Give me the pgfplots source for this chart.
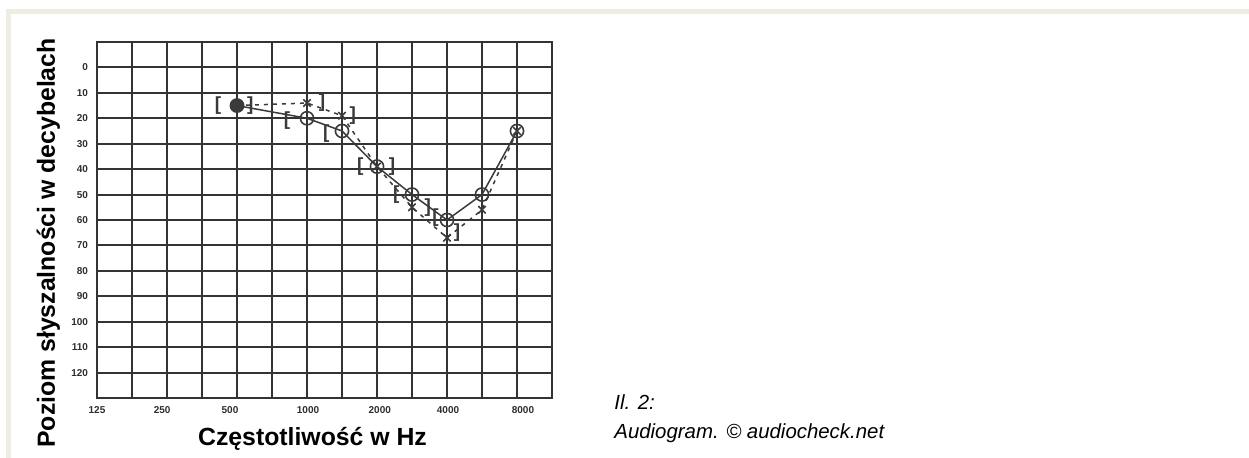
\documentclass[border=0pt]{standalone}
\usepackage{fontspec}
\setmainfont{Liberation Sans}
\usepackage{pgfplots}
\pgfplotsset{compat=1.18}
\definecolor{beige}{HTML}{EFEDE2}
\definecolor{gridc}{HTML}{333333}
\definecolor{ink}{HTML}{3A3A3A}
\definecolor{tickc}{HTML}{2E2E2E}
\begin{document}
\begin{tikzpicture}[x=0.5pt,y=0.5pt]
\path[use as bounding box] (0,0) rectangle (1249,458);
\fill[beige] (6,444) rectangle (1249,449);
\fill[beige] (6,0) rectangle (11,449);
\begin{axis}[
  at={(48.5pt,30pt)}, anchor=south west, scale only axis,
  width=227.5pt, height=178pt,
  xmin=0, xmax=13, ymin=-10, ymax=130, y dir=reverse,
  xtick={0,1.86,3.8,6.03,8.08,10.03,12.17},
  xticklabels={125,250,500,1000,2000,4000,8000},
  ytick={0,10,...,120},
  minor xtick={1,...,12},
  xminorgrids=true, ymajorgrids=true, xmajorgrids=false,
  tick style={draw=none},
  grid style={gridc, line width=1pt},
  minor grid style={gridc, line width=1pt},
  axis line style={gridc, line width=1pt},
  /pgf/number format/assume math mode=true,
  ticklabel style={font=\fontsize{5pt}{5.5pt}\selectfont\bfseries, text=tickc},
  yticklabel style={xshift=-1pt},
  xticklabel style={yshift=-0.5pt},
  clip=false,
]
\addplot[ink, line width=0.75pt, mark=o, mark size=3.3pt, mark options={solid, line width=0.8pt}]
  coordinates {(4,15) (6,20) (7,25) (8,39) (9,50) (10,60) (11,50) (12,25)};
\addplot[ink, line width=0.75pt, dash pattern=on 2pt off 2.5pt, mark=x, mark size=2.6pt, mark options={solid, line width=0.8pt}]
  coordinates {(4,15) (6,14) (7,19) (8,39) (9,55) (10,67) (11,56) (12,25)};
\addplot[only marks, mark=*, mark size=3pt, mark options={fill=ink, draw=ink}]
  coordinates {(4,15)};
\addplot[only marks, mark=text, text mark={[}, text mark as node=true, text mark style={font=\fontsize{9.5pt}{9.5pt}\selectfont\bfseries, text=ink, inner sep=0pt}]
  coordinates {(3.46,15) (5.43,21) (6.55,26) (7.52,39) (8.55,50) (9.67,59)};
\addplot[only marks, mark=text, text mark={]}, text mark as node=true, text mark style={font=\fontsize{9.5pt}{9.5pt}\selectfont\bfseries, text=ink, inner sep=0pt}]
  coordinates {(4.38,15) (6.43,14) (7.31,19) (8.43,39) (9.45,55) (10.29,65)};
\end{axis}
\node[rotate=90, anchor=base, font=\fontsize{12.4pt}{14pt}\selectfont\bfseries] at (55,215) {Poziom słyszalności w decybelach};
\node[anchor=base, font=\fontsize{12.4pt}{14pt}\selectfont\bfseries] at (312.5,12) {Częstotliwość w Hz};
\node[anchor=base west, inner sep=0pt, font=\fontsize{10.2pt}{12pt}\selectfont\itshape] at (614,48) {Il. 2:};
\node[anchor=base west, inner sep=0pt, font=\fontsize{10.2pt}{12pt}\selectfont\itshape] at (614,19) {Audiogram. © audiocheck.net};
\end{tikzpicture}
\end{document}
